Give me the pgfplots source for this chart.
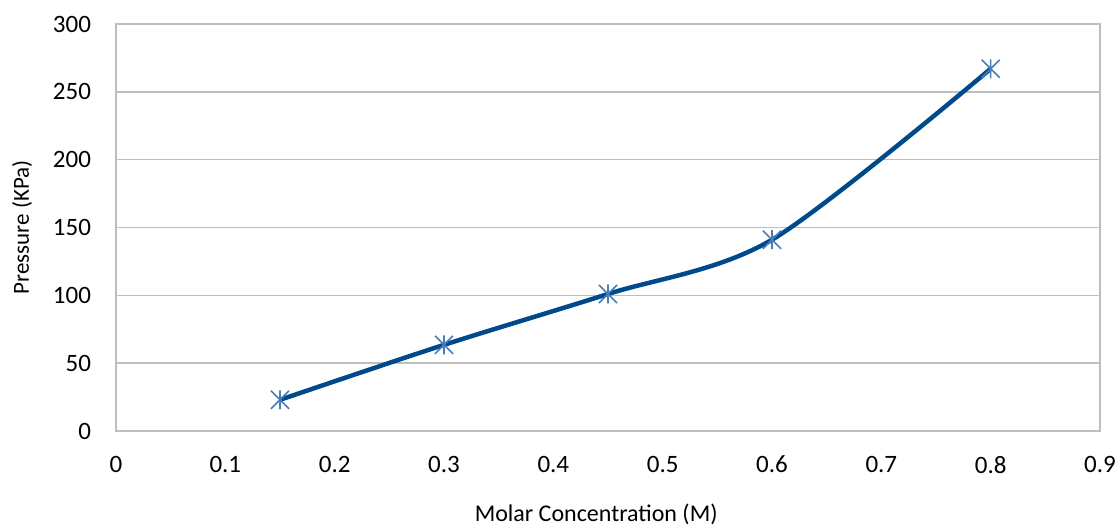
\documentclass[border=0pt]{standalone}
\usepackage{fontspec}
\setmainfont{Carlito}
\usepackage{pgfplots}
\pgfplotsset{compat=1.18}
\definecolor{linecol}{RGB}{0,74,140}
\definecolor{markcol}{RGB}{74,126,187}
\definecolor{gridcol}{RGB}{190,190,190}
\pgfdeclareplotmark{xstar}{%
  \pgfpathmoveto{\pgfqpoint{0pt}{\pgfplotmarksize}}%
  \pgfpathlineto{\pgfqpoint{0pt}{-\pgfplotmarksize}}%
  \pgfpathmoveto{\pgfqpoint{-0.95\pgfplotmarksize}{-0.95\pgfplotmarksize}}%
  \pgfpathlineto{\pgfqpoint{0.95\pgfplotmarksize}{0.95\pgfplotmarksize}}%
  \pgfpathmoveto{\pgfqpoint{-0.95\pgfplotmarksize}{0.95\pgfplotmarksize}}%
  \pgfpathlineto{\pgfqpoint{0.95\pgfplotmarksize}{-0.95\pgfplotmarksize}}%
  \pgfusepathqstroke}
\begin{document}
\begin{tikzpicture}
\path[use as bounding box] (0,0) rectangle (560pt,263pt);
\begin{axis}[
  at={(58pt,47.5pt)}, anchor=south west,
  scale only axis, width=492pt, height=203.5pt,
  xmin=0, xmax=0.9, ymin=0, ymax=300,
  xtick={0,0.1,...,0.9}, ytick={0,50,...,300},
  xticklabels={0,0.1,0.2,0.3,0.4,0.5,0.6,0.7,0.8,0.9},
  major tick length=0pt,
  axis line style={draw=gridcol, line width=0.75pt},
  ymajorgrids, grid style={draw=gridcol, line width=0.75pt},
  /pgf/number format/assume math mode=true,
  tick label style={font=\fontsize{12.5}{14}\selectfont, text=black},
  yticklabel style={xshift=-9pt},
  xticklabel style={yshift=-9pt},
  xlabel={Molar Concentration (M)},
  ylabel={Pressure (KPa)},
  xlabel style={font=\fontsize{12}{14}\selectfont, at={(axis description cs:0.488,-0.206)}, anchor=center},
  ylabel style={font=\fontsize{11.5}{13}\selectfont, at={(axis description cs:-0.0955,0.5)}, anchor=center, rotate=0},
]
\addplot[linecol, line width=2.25pt, smooth, mark=xstar, mark size=4.75pt,
  mark options={draw=markcol, line width=0.8pt}]
  coordinates {(0.15,23) (0.3,63.5) (0.45,101) (0.6,141) (0.8,267)};
\end{axis}
\end{tikzpicture}
\end{document}
